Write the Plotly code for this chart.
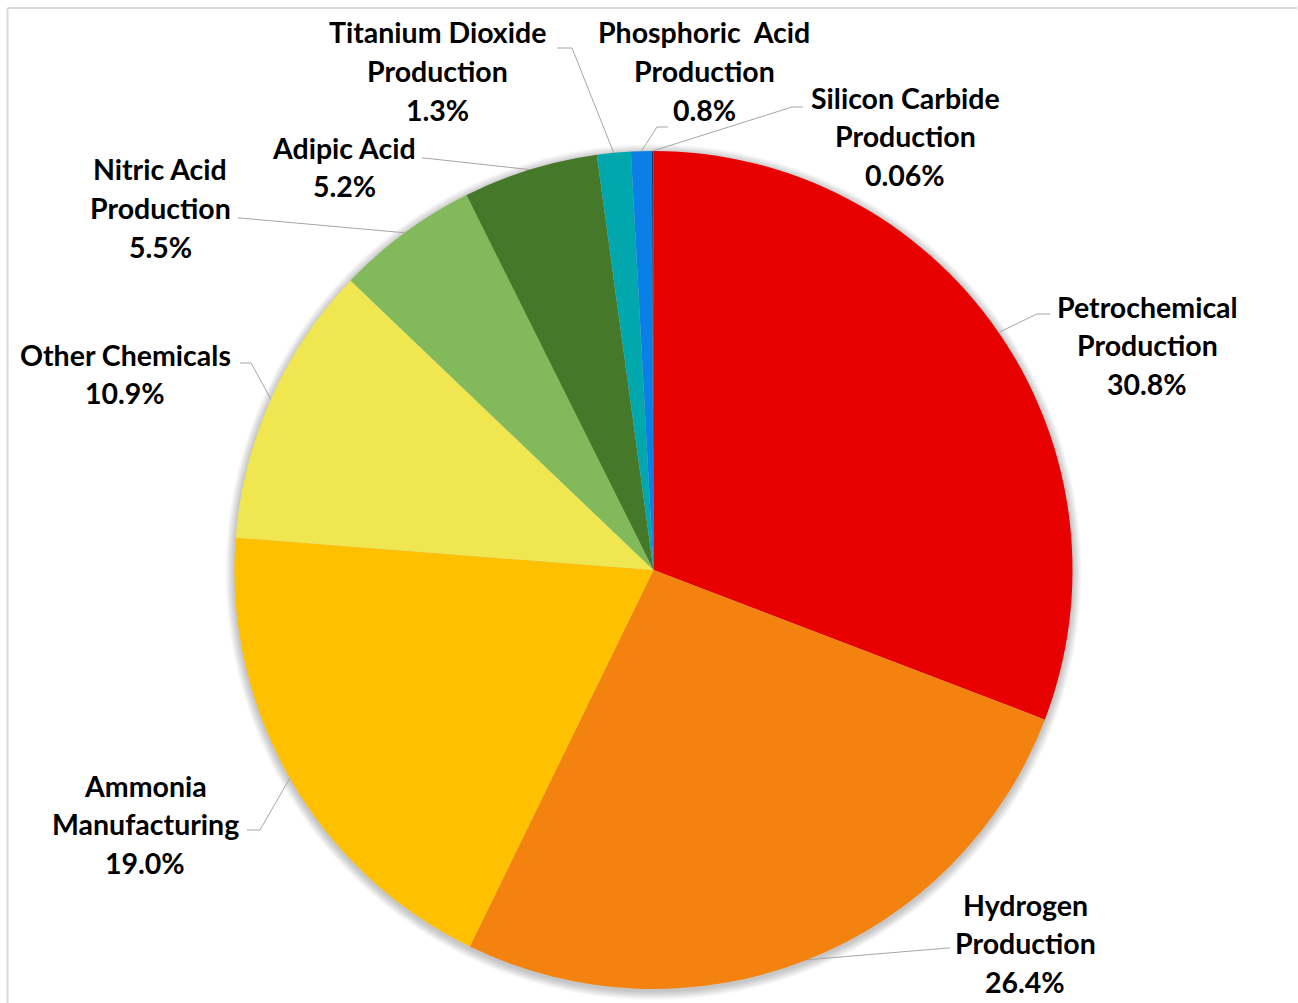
import math
import plotly.graph_objects as go

# Emission shares by source category (percent)
categories = [
    "Petrochemical Production",
    "Hydrogen Production",
    "Ammonia Manufacturing",
    "Other Chemicals",
    "Nitric Acid Production",
    "Adipic Acid",
    "Titanium Dioxide Production",
    "Phosphoric Acid Production",
    "Silicon Carbide Production",
]
shares = [30.8, 26.4, 19.0, 10.9, 5.5, 5.2, 1.3, 0.8, 0.06]
share_labels = ["30.8%", "26.4%", "19.0%", "10.9%", "5.5%", "5.2%", "1.3%", "0.8%", "0.06%"]

# Line breaks used in each label
label_lines = [
    ["Petrochemical", "Production"],
    ["Hydrogen", "Production"],
    ["Ammonia", "Manufacturing"],
    ["Other Chemicals"],
    ["Nitric Acid", "Production"],
    ["Adipic Acid"],
    ["Titanium Dioxide", "Production"],
    ["Phosphoric  Acid", "Production"],
    ["Silicon Carbide", "Production"],
]

colors = ["#E80000", "#F4820F", "#FFC000", "#F0E64F", "#82B95A",
          "#46782A", "#00A8AE", "#0A80E6", "#1F3864"]

W, H = 1298, 1003
CX, CY, R = 653.5, 570.0, 419.0   # pie centre and radius in pixels

# Label placement: text block centre, leader elbow and leader end (pixels)
label_layout = [
    dict(cx=1147, cy=345, elbow=(1037, 314), end=(1050, 314)),
    dict(cx=1025, cy=943, elbow=(948, 948), end=(950, 948)),
    dict(cx=145, cy=824, elbow=(260, 830), end=(247, 830)),
    dict(cx=125, cy=374, elbow=(251, 363), end=(240, 363)),
    dict(cx=160, cy=208, elbow=(240, 218), end=(238, 218)),
    dict(cx=344, cy=167, elbow=(424, 158), end=(422, 158)),
    dict(cx=437, cy=71, elbow=(572, 48), end=(557, 48)),
    dict(cx=704, cy=71, elbow=(657, 127), end=(668, 127)),
    dict(cx=905, cy=136, elbow=(792, 107), end=(803, 107)),
]
LINE_H = 38.5
FONT = dict(family="Lato", size=28.5, color="#000000", weight="bold")


def px(x):
    return x / W


def py(y):
    return 1 - y / H


fig = go.Figure()
fig.add_trace(go.Pie(
    labels=categories,
    values=shares,
    sort=False,
    direction="clockwise",
    rotation=0,
    marker=dict(colors=colors, line=dict(width=0)),
    textinfo="none",
    hoverinfo="label+percent",
    showlegend=False,
    domain=dict(x=[px(CX - R), px(CX + R)], y=[py(CY + R), py(CY - R)]),
))

shapes = []
# soft drop shadow under the pie
for k in range(10, 0, -1):
    rr = R + k * 0.9
    shapes.append(dict(
        type="circle", xref="paper", yref="paper", layer="below",
        x0=px(CX - rr), x1=px(CX + rr),
        y0=py(CY + 2 + rr), y1=py(CY + 2 - rr),
        line=dict(width=0), fillcolor="rgba(0,0,0,0.022)",
    ))

# chart frame
shapes.append(dict(type="line", xref="paper", yref="paper",
                   x0=px(7.5), x1=px(1297), y0=py(8), y1=py(8),
                   line=dict(color="#D9D9D9", width=2)))
shapes.append(dict(type="line", xref="paper", yref="paper",
                   x0=px(7.5), x1=px(7.5), y0=py(8), y1=py(1010),
                   line=dict(color="#D9D9D9", width=2)))

annotations = []
total = sum(shares)
cum = 0.0
for i, v in enumerate(shares):
    mid = (cum + v / 2) / total * 2 * math.pi
    cum += v
    sx = CX + R * math.sin(mid)
    sy = CY - R * math.cos(mid)
    lay = label_layout[i]
    ex, ey = lay["elbow"]
    tx, ty = lay["end"]
    shapes.append(dict(
        type="path", xref="paper", yref="paper",
        path=f"M {px(sx)},{py(sy)} L {px(ex)},{py(ey)} L {px(tx)},{py(ty)}",
        line=dict(color="#A6A6A6", width=1),
    ))
    lines = label_lines[i] + [share_labels[i]]
    n = len(lines)
    for j, txt in enumerate(lines):
        yy = lay["cy"] + (j - (n - 1) / 2) * LINE_H
        annotations.append(dict(
            x=px(lay["cx"]), y=py(yy), xref="paper", yref="paper",
            text=txt, showarrow=False, xanchor="center", yanchor="middle",
            font=FONT,
        ))

fig.update_layout(
    width=W, height=H,
    margin=dict(l=0, r=0, t=0, b=0),
    paper_bgcolor="white",
    plot_bgcolor="white",
    shapes=shapes,
    annotations=annotations,
)

fig.write_html("out.html")
